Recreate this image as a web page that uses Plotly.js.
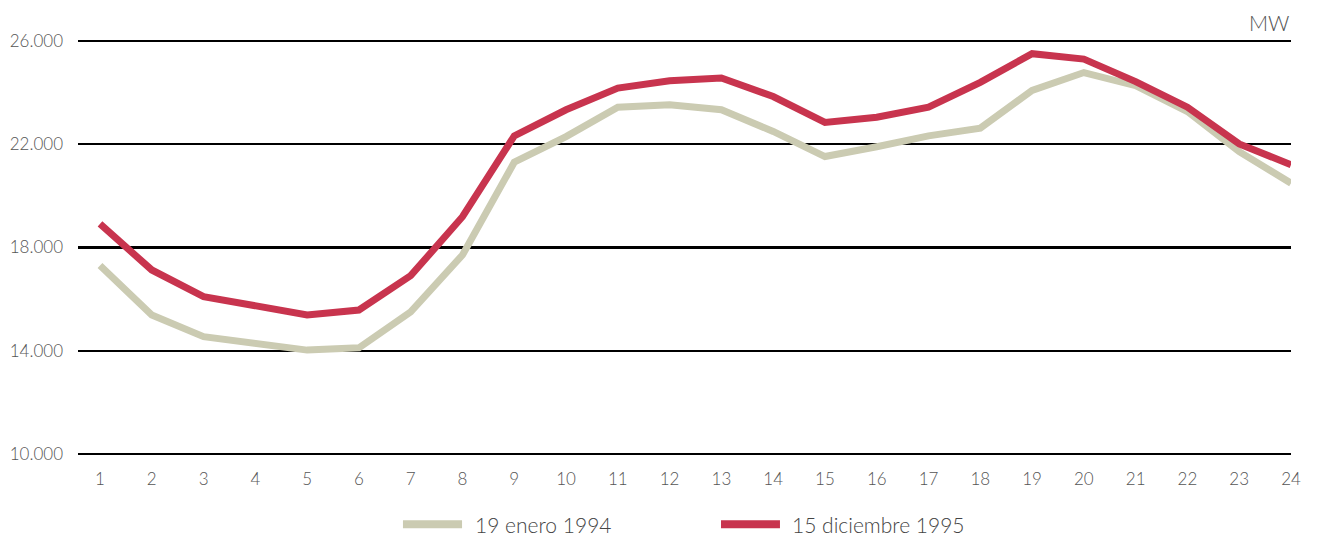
<!DOCTYPE html>
<html>
<head>
<meta charset="utf-8">
<script src="https://cdn.plot.ly/plotly-3.0.1.min.js"></script>
<style>
html,body{margin:0;padding:0;background:#fff;}
#chart{width:1319px;height:536px;}
</style>
</head>
<body>
<div id="chart"></div>
<script>
const hours = [1,2,3,4,5,6,7,8,9,10,11,12,13,14,15,16,17,18,19,20,21,22,23,24];
const seriesNames = ["19 enero 1994", "15 diciembre 1995"];
const enero1994 = [17300,15390,14550,14290,14030,14120,15510,17710,21300,22290,23430,23520,23330,22490,21520,21900,22320,22620,24080,24770,24260,23260,21710,20490];
const diciembre1995 = [18910,17130,16100,15740,15390,15580,16910,19190,22320,23330,24170,24450,24560,23840,22840,23040,23430,24390,25500,25290,24420,23430,22010,21200];
const yTicks = [10000,14000,18000,22000,26000];
const yTickText = ["10.000","14.000","18.000","22.000","26.000"];
const unitLabel = "MW";
const colors = ["#CBCBB2", "#C8344E"];

const fontFam = "Lato, 'Open Sans', sans-serif";
const traces = [
  {x: hours, y: enero1994, name: seriesNames[0], type: "scatter", mode: "lines",
   line: {color: colors[0], width: 7}},
  {x: hours, y: diciembre1995, name: seriesNames[1], type: "scatter", mode: "lines",
   line: {color: colors[1], width: 7}}
];

const layout = {
  width: 1319, height: 536,
  margin: {l: 78, r: 28, t: 33.26, b: 74.26, pad: 0},
  paper_bgcolor: "#fff", plot_bgcolor: "#fff",
  showlegend: false,
  font: {family: fontFam, color: "#555", size: 17, weight: 300},
  xaxis: {
    range: [0.575, 24], tickmode: "array", tickvals: hours, ticktext: hours.map(String),
    showgrid: false, zeroline: false, showline: false, ticks: "",
    ticklabelstandoff: 5,
    tickfont: {family: fontFam, size: 17, color: "#555", weight: 300}
  },
  yaxis: {
    range: [9700, 26300], tickmode: "array", tickvals: yTicks, ticktext: yTickText,
    showgrid: true, gridcolor: "#000", gridwidth: 2.4, zeroline: false, showline: false, ticks: "",
    ticklabelstandoff: 14,
    tickfont: {family: fontFam, size: 17, color: "#555", weight: 300}
  },
  shapes: [
    {type: "line", xref: "paper", yref: "paper", x0: 0.2679, x1: 0.3166, y0: -0.1453, y1: -0.1453,
     line: {color: colors[0], width: 8}},
    {type: "line", xref: "paper", yref: "paper", x0: 0.5301, x1: 0.5787, y0: -0.1453, y1: -0.1453,
     line: {color: colors[1], width: 8}}
  ],
  annotations: [
    {xref: "paper", yref: "paper", x: 0.3256, y: -0.1453, xanchor: "left", yanchor: "middle",
     text: seriesNames[0], showarrow: false, font: {family: fontFam, size: 21, color: "#444", weight: 300}},
    {xref: "paper", yref: "paper", x: 0.5870, y: -0.1453, xanchor: "left", yanchor: "middle",
     text: seriesNames[1], showarrow: false, font: {family: fontFam, size: 21, color: "#444", weight: 300}},
    {xref: "paper", yref: "paper", x: 1.0, y: 1.024, xanchor: "right", yanchor: "middle",
     text: unitLabel, showarrow: false, font: {family: fontFam, size: 21, color: "#555", weight: 300}}
  ]
};

Plotly.newPlot("chart", traces, layout, {displayModeBar: false, staticPlot: true});
</script>
</body>
</html>
